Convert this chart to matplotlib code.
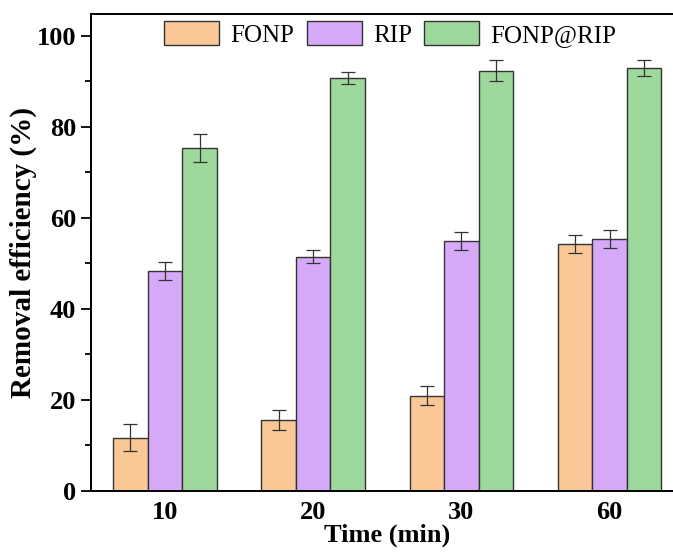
import numpy as np
import matplotlib
matplotlib.use("Agg")
from matplotlib import pyplot as plt
from matplotlib.ticker import MultipleLocator

plt.rcParams['font.family'] = ['Liberation Serif', 'DejaVu Serif']
plt.rcParams['mathtext.fontset'] = 'stix'

times = ['10', '20', '30', '60']
series = ['FONP', 'RIP', 'FONP@RIP']
fonp = [11.7, 15.7, 20.9, 54.2]
fonp_err = [3.0, 2.2, 2.1, 2.0]
rip = [48.4, 51.5, 55.0, 55.3]
rip_err = [2.0, 1.4, 2.0, 2.0]
frip = [75.4, 90.8, 92.4, 93.0]
frip_err = [3.0, 1.3, 2.2, 1.8]

colors = ['#F9C896', '#D6AAF9', '#9ED89C']

fig = plt.figure(figsize=(6.73, 5.52), dpi=100)
ax = fig.add_axes([0.135, 0.1105, 0.881, 0.864])

x = np.arange(len(times))
w = 0.233
for k, (vals, errs) in enumerate([(fonp, fonp_err), (rip, rip_err), (frip, frip_err)]):
    ax.bar(x + (k - 1) * w, vals, w, color=colors[k], edgecolor='#333333',
           linewidth=1.0, label=series[k], zorder=2)
    ax.errorbar(x + (k - 1) * w, vals, yerr=errs, fmt='none', ecolor='#333333',
                elinewidth=0.9, capsize=5, capthick=0.9, zorder=3)

ax.set_xlim(-0.5, 3.5)
ax.set_ylim(0, 104.8)
ax.set_xticks(x)
ax.set_xticklabels(times)
ax.yaxis.set_major_locator(MultipleLocator(20))
ax.yaxis.set_minor_locator(MultipleLocator(10))
ax.tick_params(axis='x', length=0, pad=7, labelsize=19)
ax.tick_params(axis='y', which='major', length=7, width=1.3, direction='out', labelsize=19)
ax.tick_params(axis='y', which='minor', length=4, width=1.3, direction='out')
for lab in ax.get_xticklabels() + ax.get_yticklabels():
    lab.set_fontweight('bold')
for s in ax.spines.values():
    s.set_linewidth(1.4)

ax.set_xlabel('Time (min)', fontsize=19, fontweight='bold', labelpad=0)
ax.set_ylabel('Removal efficiency (%)', fontsize=21, fontweight='bold', labelpad=0)

ax.legend(loc='upper center', bbox_to_anchor=(0.505, 1.027), ncol=3, frameon=False,
          fontsize=18, handlelength=2.2, handleheight=1.1, columnspacing=0.5,
          handletextpad=0.45, borderpad=0.3)

fig.savefig('out.png', dpi=100)
